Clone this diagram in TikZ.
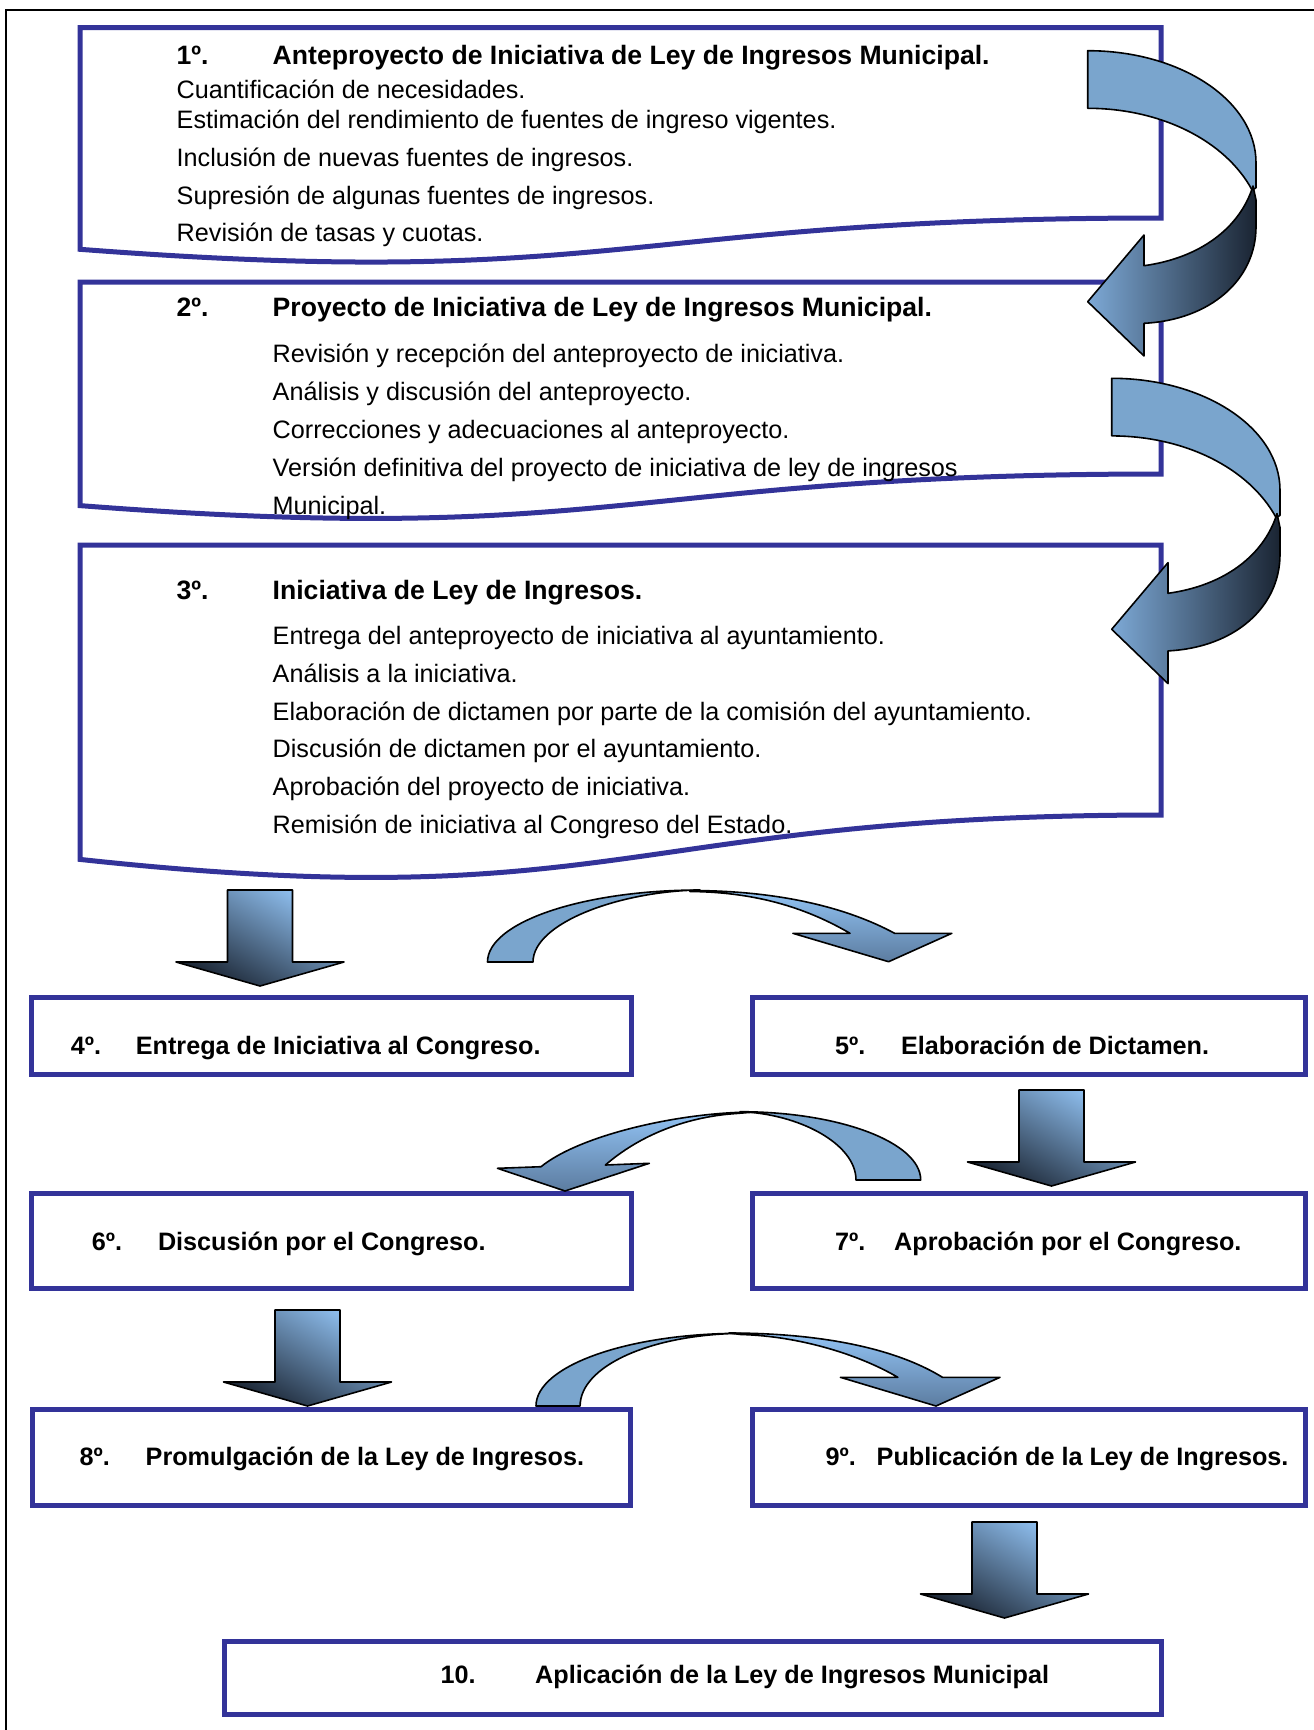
\documentclass[tikz,border=0pt]{standalone}
\usepackage{fontspec}
\setmainfont{Liberation Sans}
\definecolor{boxblue}{RGB}{51,51,153}
\definecolor{arrsolid}{RGB}{122,165,205}
\definecolor{arrlight}{RGB}{146,195,244}
\definecolor{arrdark}{RGB}{26,36,50}
\definecolor{arrmid}{RGB}{92,124,160}
\definecolor{arrtip}{RGB}{125,169,214}
\tikzset{
  docbox/.style={draw=boxblue, line width=5pt, line join=miter},
  rbox/.style={draw=boxblue, line width=5pt, inner sep=0pt, outer sep=0pt},
  txt/.style={anchor=base west, inner sep=0pt, font=\fontsize{25.2}{30}\selectfont},
  ttl/.style={txt, font=\fontsize{25.2}{30}\selectfont\bfseries},
  bigttl/.style={txt, font=\fontsize{26.6}{32}\selectfont\bfseries},
  arrline/.style={draw=black, line width=1.6pt, line join=round},
  solidpart/.style={arrline, fill=arrsolid},
  frontpart/.style={arrline, top color=arrlight, bottom color=arrmid},
  rfront/.style={arrline, left color=arrtip, right color=arrdark},
  downarr/.style={arrline, top color=arrlight, bottom color=arrdark, shading angle=-30},
  downarrow/.pic={
    \path[downarr] (-32.5,0) -- (32.5,0) -- (32.5,72) -- (84,72) -- (0,96)
      -- (-84,72) -- (-32.5,72) -- cycle;
  },
  curvleft/.pic={
    \path[solidpart] (0,0) .. controls (93,0) and (168.3,50) .. (168.3,112)
      -- (168.3,137) -- (164.5,139.5) .. controls (137.3,89.3) and (72.3,57.6) .. (0,57.6) -- cycle;
    \path[rfront] (165.3,135.3) -- (168.3,149.3) -- (168.3,176)
      .. controls (168.3,229.3) and (122.3,269.3) .. (56.3,272.6)
      -- (56.3,305.3) -- (0,251) -- (56.3,184.3) -- (56.3,215)
      .. controls (112.3,207.3) and (152.3,177.3) .. (165.3,135.3) -- cycle;
  }
}
\begin{document}
\begin{tikzpicture}[x=1pt,y=-1pt]
\useasboundingbox (0,0) rectangle (1314,1730);
\fill[white] (0,0) rectangle (1314,1730);
% outer frame
\draw[line width=2pt] (6,1730) -- (6,10) -- (1314,10);

% document boxes
\path[docbox] (80,27.5) -- (1161,27.5) -- (1161,218)
  .. controls (620.5,218) and (620.5,290.7) .. (80,249.3) -- cycle;
\path[docbox] (80,282) -- (1161,282) -- (1161,474)
  .. controls (620.5,474) and (620.5,547.3) .. (80,505.6) -- cycle;
\path[docbox] (80,545) -- (1161,545) -- (1161,815)
  .. controls (620.5,815) and (620.5,918) .. (80,859.4) -- cycle;

% rectangular boxes
\node[rbox, minimum width=600pt, minimum height=76.6pt] (b4) at (331,1036) {};
\node[rbox, minimum width=553pt, minimum height=76.6pt] (b5) at (1028.5,1036) {};
\node[rbox, minimum width=600pt, minimum height=94.9pt] (b6) at (331,1241.3) {};
\node[rbox, minimum width=553pt, minimum height=94.9pt] (b7) at (1028.5,1241.3) {};
\node[rbox, minimum width=598pt, minimum height=96pt] (b8) at (331,1457.3) {};
\node[rbox, minimum width=553pt, minimum height=96pt] (b9) at (1028.5,1457.3) {};
\node[rbox, minimum width=936.4pt, minimum height=72.6pt] (b10) at (692.8,1678) {};

% texts box 1
\node[bigttl] (n1) at (176.5,64) {1º.};
\node[bigttl] (t1) at (272.5,64) {Anteproyecto de Iniciativa de Ley de Ingresos Municipal.};
\node[txt] (l11) at (176.5,98.3) {Cuantificación de necesidades.};
\node[txt] (l12) at (176.5,128.3) {Estimación del rendimiento de fuentes de ingreso vigentes.};
\node[txt] (l13) at (176.5,166.7) {Inclusión de nuevas fuentes de ingresos.};
\node[txt] (l14) at (176.5,204) {Supresión de algunas fuentes de ingresos.};
\node[txt] (l15) at (176.5,241.7) {Revisión de tasas y cuotas.};
% box 2
\node[bigttl] (n2) at (176.5,316.7) {2º.};
\node[bigttl] (t2) at (272.5,316.7) {Proyecto de Iniciativa de Ley de Ingresos Municipal.};
\node[txt] (l21) at (272.5,362.7) {Revisión y recepción del anteproyecto de iniciativa.};
\node[txt] (l22) at (272.5,400) {Análisis y discusión del anteproyecto.};
\node[txt] (l23) at (272.5,438) {Correcciones y adecuaciones al anteproyecto.};
\node[txt] (l24) at (272.5,476.7) {Versión definitiva del proyecto de iniciativa de ley de ingresos};
\node[txt] (l25) at (272.5,514) {Municipal.};
% box 3
\node[bigttl] (n3) at (176.5,599.3) {3º.};
\node[bigttl] (t3) at (272.5,599.3) {Iniciativa de Ley de Ingresos.};
\node[txt] (l31) at (272.5,644.3) {Entrega del anteproyecto de iniciativa al ayuntamiento.};
\node[txt] (l32) at (272.5,682.3) {Análisis a la iniciativa.};
\node[txt] (l33) at (272.5,720) {Elaboración de dictamen por parte de la comisión del ayuntamiento.};
\node[txt] (l34) at (272.5,757.5) {Discusión de dictamen por el ayuntamiento.};
\node[txt] (l35) at (272.5,795.5) {Aprobación del proyecto de iniciativa.};
\node[txt] (l36) at (272.5,833.3) {Remisión de iniciativa al Congreso del Estado.};
% boxes 4-10
\node[ttl] (n4) at (70.6,1054) {4º.};
\node[ttl] (t4) at (135.7,1054) {Entrega de Iniciativa al Congreso.};
\node[ttl] (n5) at (835,1054) {5º.};
\node[ttl] (t5) at (900.8,1054) {Elaboración de Dictamen.};
\node[ttl] (n6) at (91.6,1250) {6º.};
\node[ttl] (t6) at (157.8,1250) {Discusión por el Congreso.};
\node[ttl] (n7) at (835,1250) {7º.};
\node[ttl] (t7) at (894,1250) {Aprobación por el Congreso.};
\node[ttl] (n8) at (79.5,1465) {8º.};
\node[ttl] (t8) at (145.5,1465) {Promulgación de la Ley de Ingresos.};
\node[ttl] (n9) at (825.5,1465) {9º.};
\node[ttl] (t9) at (876.5,1465) {Publicación de la Ley de Ingresos.};
\node[ttl] (n10) at (440.5,1683.5) {10.};
\node[ttl] (t10) at (535,1683.5) {Aplicación de la Ley de Ingresos Municipal};

% right curved arrows
\pic (r1) at (1087.7,50.7) {curvleft};
\pic (r2) at (1111.7,378.3) {curvleft};

% down arrows
\pic (d1) at (260,890) {downarrow};
\pic (d2) at (1051.5,1090) {downarrow};
\pic (d3) at (307.5,1310) {downarrow};
\pic (d4) at (1004.5,1522) {downarrow};

% arc A (to the right, 3/4 -> 5)
\path[solidpart] (487.5,962) .. controls (487.5,922.3) and (582.7,890) .. (700,890)
  .. controls (620,891) and (533,922.8) .. (533,962) -- cycle;
\path[frontpart] (690,890.5) .. controls (780,890.5) and (848,908) .. (894.6,933.3)
  -- (951.8,933.3) -- (888.6,961.7) -- (792.9,933.3) -- (850,933.3)
  .. controls (810,910) and (760,892) .. (690,891.5) -- cycle;

% arc B (to the left, 5 -> 6)
\path[solidpart] (920.7,1180) .. controls (920.7,1142.5) and (839.7,1111.7) .. (740,1111.7)
  .. controls (798.7,1113.5) and (856,1143.7) .. (856,1180) -- cycle;
\path[frontpart] (755,1112) .. controls (680,1112) and (580,1135) .. (541,1166.7)
  -- (497.5,1168.3) -- (565,1191) -- (649.3,1163.3) -- (605.4,1165)
  .. controls (640,1135) and (685,1118) .. (730,1114) -- cycle;

% arc C (to the right, 8 -> 9)
\path[solidpart] (536,1406) .. controls (536,1365.9) and (627.8,1333.3) .. (741,1333.3)
  .. controls (649.4,1334.5) and (580.1,1366.5) .. (580.1,1406) -- cycle;
\path[frontpart] (729,1333) .. controls (810,1333) and (890,1345) .. (942.5,1377.3)
  -- (1000,1377.3) -- (936,1406) -- (840.4,1377.3) -- (897.8,1377.3)
  .. controls (860,1355) and (800,1336) .. (741,1334.5) -- cycle;
\end{tikzpicture}
\end{document}
